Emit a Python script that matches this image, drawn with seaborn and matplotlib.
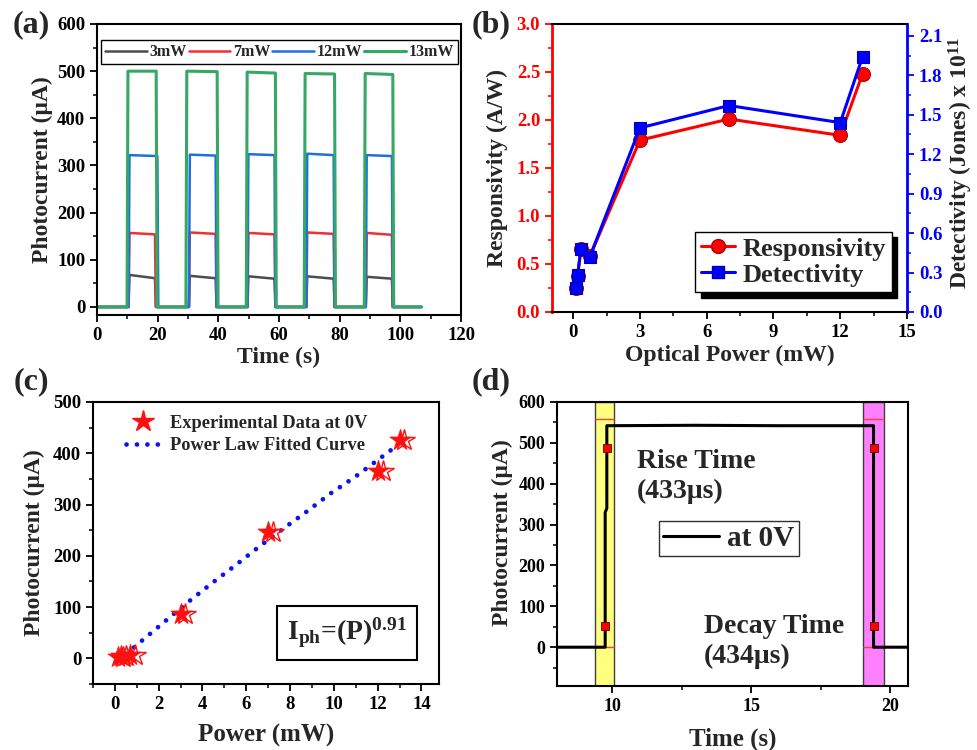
import matplotlib
matplotlib.use("Agg")
import matplotlib.pyplot as plt
import matplotlib.transforms as mtransforms
from matplotlib.ticker import MultipleLocator
from matplotlib.lines import Line2D
import seaborn as sns

# ---------------- data: panel (a) ----------------
a_labels = ["3mW", "7mW", "12mW", "13mW"]
a_colors = ["#4d4d4d", "#ee3030", "#1f6fe0", "#35a865"]
a_on_green = [9.9, 29.3, 49.2, 68.3, 88.1]
a_off_green = [19.5, 39.6, 58.8, 78.3, 97.5]
a_on_other = [10.4, 30.3, 49.6, 69.0, 88.6]
a_off_other = [19.1, 39.1, 58.5, 78.0, 97.2]
a_off_blue = [19.9, 39.1, 58.5, 78.0, 97.2]
a_3mW_start = [68, 66, 65, 65, 64]
a_3mW_end = [61, 61, 60, 60, 60]
a_7mW_start = [157, 158, 157, 158, 157]
a_7mW_end = [154, 155, 154, 155, 153]
a_12mW_start = [322, 323, 324, 325, 322]
a_12mW_end = [320, 321, 322, 322, 320]
a_13mW_start = [500, 500, 498, 495, 495]
a_13mW_end = [500, 499, 496, 494, 493]
a_t_end = 107.0

# ---------------- data: panel (b) ----------------
b_power = [0.15, 0.2, 0.35, 0.75, 3, 7, 12, 13]
b_resp = [0.25, 0.38, 0.66, 0.58, 1.79, 2.01, 1.84, 2.48]
b_det = [0.185, 0.28, 0.48, 0.42, 1.40, 1.57, 1.44, 1.94]

# ---------------- data: panel (c) ----------------
c_power = [0.15, 0.3, 0.7, 3, 7, 12, 13]
c_current = [2, 4, 6, 87, 247, 365, 426]
c_fit_power = [0.15, 1.22, 2.28, 3.32, 4.38, 5.49, 6.56, 7.66, 8.75, 9.86, 10.97, 12.04, 12.79]
c_fit_current = [-5, 34, 72, 109, 145, 181, 217, 252, 286, 322, 354, 388, 412]

# ---------------- data: panel (d) ----------------
d_time = [8.0, 9.74, 9.74, 9.80, 9.80, 13.0, 16.0, 19.41, 19.41, 20.65]
d_current = [0, 0, 330, 340, 542, 543, 542, 542, 0, 0]
d_rise_t = [9.75, 9.79]
d_rise_i = [52, 487]
d_decay_t = [19.41, 19.41]
d_decay_i = [487, 51]
d_rise_window = [9.36, 10.05]
d_decay_window = [19.04, 19.77]
d_ref_levels = [0, 558]


def square_wave(on, off, lvl_start, lvl_end, t_end, edge=0.3):
    t, y = [0.0], [0.0]
    for a, b, s, e in zip(on, off, lvl_start, lvl_end):
        t += [a, a + edge, b, b + edge]
        y += [0, s, e, 0]
    t.append(t_end)
    y.append(0)
    return t, y


sns.set_theme(style="ticks")
plt.rcParams.update({
    "font.family": ["Liberation Serif", "DejaVu Serif"],
    "font.weight": "bold",
    "axes.labelweight": "bold",
    "axes.linewidth": 1.4,
    "xtick.direction": "out",
    "ytick.direction": "out",
    "xtick.major.width": 1.3,
    "ytick.major.width": 1.3,
    "xtick.minor.width": 1.1,
    "ytick.minor.width": 1.1,
    "xtick.major.size": 5,
    "ytick.major.size": 5,
    "xtick.minor.size": 3,
    "ytick.minor.size": 3,
    "xtick.color": "black",
    "ytick.color": "black",
    "axes.edgecolor": "black",
    "mathtext.fontset": "custom",
    "mathtext.rm": "Liberation Serif:bold",
    "mathtext.bf": "Liberation Serif:bold",
    "mathtext.it": "Liberation Serif:bold:italic",
    "legend.frameon": True,
})

fig = plt.figure(figsize=(9.77, 7.5), dpi=100)
axA = fig.add_axes([0.0993, 0.580, 0.3726, 0.388])
axB = fig.add_axes([0.565, 0.584, 0.3634, 0.384])
axC = fig.add_axes([0.0952, 0.088, 0.3541, 0.376])
axD = fig.add_axes([0.570, 0.0853, 0.3593, 0.3787])

TICK_FS = 13.5
LAB_FS = 17

# ---------------- panel (a) ----------------
waves = [
    square_wave(a_on_other, a_off_other, a_3mW_start, a_3mW_end, a_t_end),
    square_wave(a_on_other, a_off_other, a_7mW_start, a_7mW_end, a_t_end),
    square_wave(a_on_other, a_off_blue, a_12mW_start, a_12mW_end, a_t_end),
    square_wave(a_on_green, a_off_green, a_13mW_start, a_13mW_end, a_t_end),
]
for (t, y), lab, col in zip(waves, a_labels, a_colors):
    sns.lineplot(x=t, y=y, ax=axA, sort=False, estimator=None, color=col,
                 lw=2.2 if lab == "13mW" else 1.8, label=lab)
axA.set_xlim(0, 120)
axA.set_ylim(-17, 600)
axA.xaxis.set_major_locator(MultipleLocator(20))
axA.xaxis.set_minor_locator(MultipleLocator(10))
axA.yaxis.set_major_locator(MultipleLocator(100))
axA.yaxis.set_minor_locator(MultipleLocator(50))
axA.set_xlabel("Time (s)", fontsize=LAB_FS)
axA.set_ylabel("Photocurrent (\u03bcA)", fontsize=LAB_FS)
axA.xaxis.set_label_coords(0.5, -0.11)
axA.yaxis.set_label_coords(-0.12, 0.5)
legA = axA.legend(loc="upper center", bbox_to_anchor=(0.501, 0.972), ncol=4,
                  fontsize=11.5, handlelength=2.6, handletextpad=0.15,
                  columnspacing=0.15, borderpad=0.25, fancybox=False,
                  edgecolor="black", framealpha=1)
legA.get_frame().set_linewidth(1.0)
for txt in legA.get_texts():
    txt.set_fontweight("bold")

# ---------------- panel (b) ----------------
axB2 = axB.twinx()
sns.lineplot(x=b_power, y=b_resp, ax=axB, sort=False, estimator=None,
             color="#ff0000", lw=2.2, marker="o", markersize=10,
             markeredgecolor="#b00000", markeredgewidth=0.8)
sns.lineplot(x=b_power, y=b_det, ax=axB2, sort=False, estimator=None,
             color="#0000ff", lw=2.2, marker="s", markersize=8.5,
             markeredgecolor="#0000aa", markeredgewidth=0.8)
axB.set_xlim(-0.95, 15)
axB.set_ylim(0, 3.0)
axB2.set_ylim(0, 2.19)
axB.xaxis.set_major_locator(MultipleLocator(3))
axB.xaxis.set_minor_locator(MultipleLocator(1.5))
axB.yaxis.set_major_locator(MultipleLocator(0.5))
axB.yaxis.set_minor_locator(MultipleLocator(0.25))
axB2.yaxis.set_major_locator(MultipleLocator(0.3))
axB2.yaxis.set_minor_locator(MultipleLocator(0.15))
axB.yaxis.set_major_formatter(plt.FormatStrFormatter("%.1f"))
axB2.yaxis.set_major_formatter(plt.FormatStrFormatter("%.1f"))
axB.spines["left"].set_color("#ff0000")
axB.spines["left"].set_linewidth(2.0)
axB.spines["right"].set_visible(False)
axB2.spines["left"].set_visible(False)
axB2.spines["right"].set_color("#0000ff")
axB2.spines["right"].set_linewidth(2.0)
axB.tick_params(axis="y", which="both", colors="#ff0000", labelcolor="#ff0000")
axB2.tick_params(axis="y", which="both", colors="#0000ff", labelcolor="#0000ff")
axB.set_xlabel("Optical Power (mW)", fontsize=LAB_FS)
axB.set_ylabel("Responsivity (A/W)", fontsize=LAB_FS)
axB2.set_ylabel("Detectivity (Jones) x 10$^{11}$", fontsize=LAB_FS)
axB.xaxis.set_label_coords(0.5, -0.115)
axB.yaxis.set_label_coords(-0.124, 0.5)
axB2.yaxis.set_label_coords(1.113, 0.517)
hB = [Line2D([], [], color="#ff0000", lw=2.2, marker="o", markersize=10,
             markeredgecolor="#b00000"),
      Line2D([], [], color="#0000ff", lw=2.2, marker="s", markersize=8.5,
             markeredgecolor="#0000aa")]
legB = axB2.legend(hB, ["Responsivity", "Detectivity"], loc="center",
                   bbox_to_anchor=(0.68, 0.174), fontsize=19, handlelength=1.3,
                   handletextpad=0.3, borderpad=0.2, labelspacing=0.1,
                   fancybox=False, edgecolor="black", framealpha=1,
                   shadow={"ox": 4, "oy": -4, "facecolor": "black",
                           "edgecolor": "black", "alpha": 1})
for txt in legB.get_texts():
    txt.set_fontweight("bold")

# ---------------- panel (c) ----------------
sns.lineplot(x=c_fit_power, y=c_fit_current, ax=axC, sort=False, estimator=None,
             color="#0a14f0", lw=3.4, linestyle=(0, (0.01, 2.2)),
             dash_capstyle="round", zorder=2)
offset = mtransforms.ScaledTranslation(3.5 / 72, 0, fig.dpi_scale_trans)
axC.plot(c_power, c_current, ls="none", marker="*", markersize=16,
         mfc="none", mec="#ff1010", mew=1.0,
         transform=axC.transData + offset, zorder=3)
sns.scatterplot(x=c_power, y=c_current, ax=axC, marker="*", s=260,
                color="#ff1010", edgecolor="#ff1010", linewidth=0.5, zorder=4)
axC.set_xlim(-1.0, 14.8)
axC.set_ylim(-50, 500)
axC.xaxis.set_major_locator(MultipleLocator(2))
axC.xaxis.set_minor_locator(MultipleLocator(1))
axC.yaxis.set_major_locator(MultipleLocator(100))
axC.yaxis.set_minor_locator(MultipleLocator(50))
axC.set_xlabel("Power (mW)", fontsize=LAB_FS + 1)
axC.set_ylabel("Photocurrent (\u03bcA)", fontsize=LAB_FS)
axC.xaxis.set_label_coords(0.5, -0.14)
axC.yaxis.set_label_coords(-0.139, 0.503)
hC = [Line2D([], [], ls="none", marker="*", markersize=16, color="#ff1010"),
      Line2D([], [], color="#0a14f0", lw=3.4, linestyle=(0, (0.01, 2.2)),
             dash_capstyle="round")]
legC = axC.legend(hC, ["Experimental Data at 0V", "Power Law Fitted Curve"],
                  loc="upper left", bbox_to_anchor=(0.049, 1.013), frameon=False,
                  fontsize=13.2, handlelength=1.8, handletextpad=0.55,
                  labelspacing=0.3)
for txt in legC.get_texts():
    txt.set_fontweight("bold")
axC.text(0.734, 0.181, r"I$_{\mathrm{ph}}$=(P)$^{0.91}$", transform=axC.transAxes,
         ha="center", va="center", fontsize=20, fontweight="bold",
         bbox=dict(boxstyle="square,pad=0.35", facecolor="white",
                   edgecolor="black", linewidth=1.5))

# ---------------- panel (d) ----------------
axD.axvspan(*d_rise_window, facecolor="#ffff80", edgecolor="#404040", lw=1.0, zorder=0)
axD.axvspan(*d_decay_window, facecolor="#ff80ff", edgecolor="#404040", lw=1.0, zorder=0)
for win in (d_rise_window, d_decay_window):
    axD.hlines(d_ref_levels, win[0], win[1], colors="#ff3b3b", lw=1.0, zorder=1)
sns.lineplot(x=d_time, y=d_current, ax=axD, sort=False, estimator=None,
             color="black", lw=2.2, label="at 0V", zorder=3)
axD.plot(d_rise_t, d_rise_i, ls="none", marker="s", markersize=6,
         mfc="#ff0000", mec="#600000", mew=0.6, zorder=4)
axD.plot(d_decay_t, d_decay_i, ls="none", marker="s", markersize=6,
         mfc="#ff0000", mec="#600000", mew=0.6, zorder=4)
axD.set_xlim(8.0, 20.65)
axD.set_ylim(-95, 600)
axD.xaxis.set_major_locator(MultipleLocator(5))
axD.xaxis.set_minor_locator(MultipleLocator(2.5))
axD.yaxis.set_major_locator(MultipleLocator(100))
axD.yaxis.set_minor_locator(MultipleLocator(50))
axD.set_xlabel("Time (s)", fontsize=LAB_FS + 1)
axD.set_ylabel("Photocurrent (\u03bcA)", fontsize=LAB_FS)
axD.xaxis.set_label_coords(0.5, -0.145)
axD.yaxis.set_label_coords(-0.125, 0.539)
axD.text(0.228, 0.835, "Rise Time\n(433\u03bcs)", transform=axD.transAxes,
         ha="left", va="top", fontsize=20, fontweight="bold", linespacing=1.25)
axD.text(0.419, 0.255, "Decay Time\n(434\u03bcs)", transform=axD.transAxes,
         ha="left", va="top", fontsize=20, fontweight="bold", linespacing=1.25)
legD = axD.legend(loc="center", bbox_to_anchor=(0.49, 0.519), fontsize=21,
                  handlelength=1.9, handletextpad=0.3, borderpad=0.15,
                  fancybox=False, edgecolor="#303030", framealpha=1)
legD.get_frame().set_linewidth(1.0)
for txt in legD.get_texts():
    txt.set_fontweight("bold")

for ax in (axA, axB, axB2, axC, axD):
    ax.tick_params(which="both", labelsize=TICK_FS, top=False)
    for lab in ax.get_xticklabels() + ax.get_yticklabels():
        lab.set_fontweight("bold")
for ax in (axA, axC, axD):
    ax.tick_params(which="both", right=False, top=False)
axD.tick_params(labelsize=13)

for ax in (axA, axC, axD):
    for s in ax.spines.values():
        s.set_visible(True)
        s.set_color("black")
        s.set_linewidth(1.5)
for s in ("top", "bottom"):
    axB.spines[s].set_linewidth(1.5)

fig.text(0.032, 0.967, "(a)", fontsize=23, fontweight="bold", ha="center", va="center")
fig.text(0.5026, 0.967, "(b)", fontsize=23, fontweight="bold", ha="center", va="center")
fig.text(0.032, 0.491, "(c)", fontsize=23, fontweight="bold", ha="center", va="center")
fig.text(0.5026, 0.491, "(d)", fontsize=23, fontweight="bold", ha="center", va="center")

fig.savefig("out.png", dpi=100)
